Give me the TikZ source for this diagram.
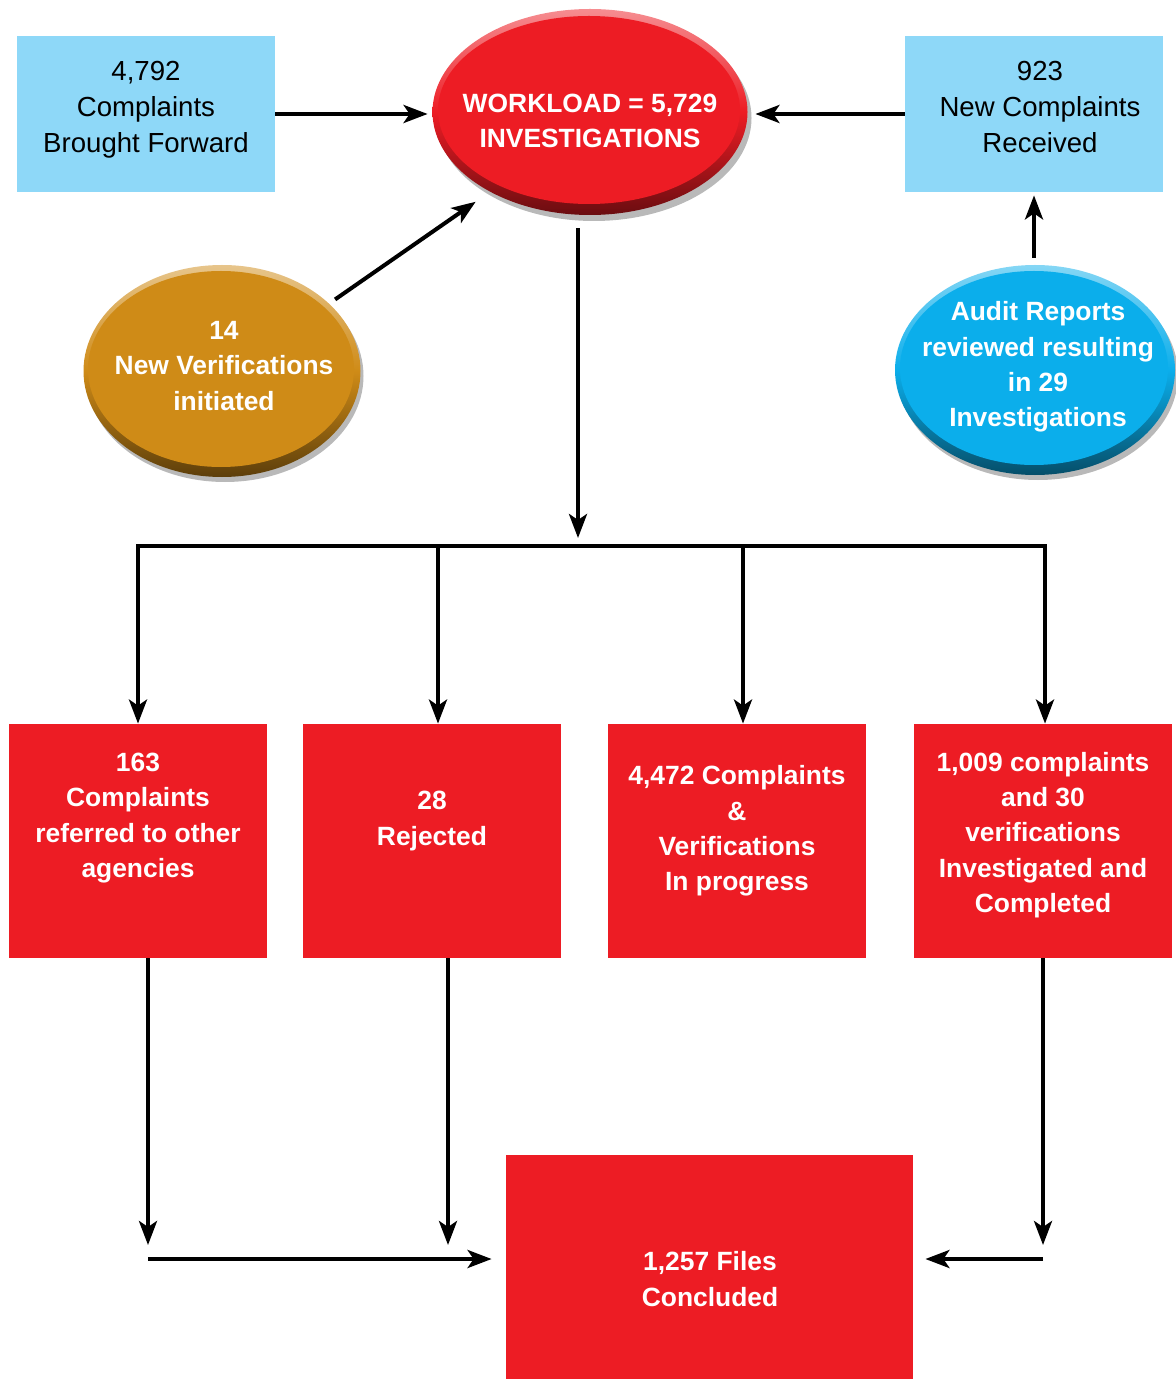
\documentclass[tikz,border=0pt]{standalone}
\usepackage{fontspec}
\setmainfont{Liberation Sans}
\usetikzlibrary{arrows.meta,shapes.geometric,calc}
\definecolor{boxred}{HTML}{ED1C24}
\definecolor{lblue}{HTML}{8ED8F8}
\definecolor{orng}{HTML}{CF8B17}
\definecolor{skyb}{HTML}{0BAEEB}
\begin{document}
\begin{tikzpicture}[x=0.5pt,y=-0.5pt,
  arr/.style={line width=2pt,-{Stealth[length=12pt,width=9pt,inset=3pt]}},
  wtxt/.style={text=white,font=\bfseries\fontsize{13.2}{17.6}\selectfont,align=center,inner sep=0pt},
  btxt/.style={text=black,font=\fontsize{13.8}{18}\selectfont,align=center,inner sep=0pt},
  redbox/.style={fill=boxred,minimum width=129pt,minimum height=117pt,inner sep=0pt},
  bluebox/.style={fill=lblue,minimum width=129pt,minimum height=78pt,inner sep=0pt},
  oval/.style={ellipse,inner sep=0pt},
  shadowfill/.style={fill=gray!55}
]
\useasboundingbox (0,0) rectangle (1175,1379);

% light blue boxes
\node[bluebox] (tl) at (146,114) {};
\node[btxt] (tlt) at (146,110) {4,792\\Complaints\\Brought Forward};
\node[bluebox] (tr) at (1034,114) {};
\node[btxt] (trt) at (1040,107) {923\\New Complaints\\Received};

% workload ellipse
\fill[shadowfill] (594,118) ellipse [x radius=78.75pt, y radius=51.5pt];
\shade[top color=boxred!50!white, bottom color=boxred!45!black, middle color=boxred] (590,112) ellipse [x radius=78.75pt, y radius=51.5pt];
\node[oval, fill=boxred, minimum width=151pt, minimum height=94pt] (wl) at (589,110) {};
\node[wtxt] (wlt) at (590,121) {WORKLOAD = 5,729\\INVESTIGATIONS};

% orange ellipse
\fill[shadowfill] (225,376) ellipse [x radius=69.25pt, y radius=53pt];
\shade[top color=orng!50!white, bottom color=orng!45!black, middle color=orng] (222,371) ellipse [x radius=69.25pt, y radius=53pt];
\node[oval, fill=orng, minimum width=133pt, minimum height=98pt] (ov) at (221,369) {};
\node[wtxt] (ovt) at (224,366) {14\\New Verifications\\initiated};

% blue ellipse
\fill[shadowfill] (1038,375) ellipse [x radius=70pt, y radius=52.5pt];
\shade[top color=skyb!50!white, bottom color=skyb!45!black, middle color=skyb] (1035,370) ellipse [x radius=70pt, y radius=52.5pt];
\node[oval, fill=skyb, minimum width=134pt, minimum height=97pt] (bv) at (1034,368) {};
\node[wtxt] (bvt) at (1038,367) {Audit Reports\\reviewed resulting\\in 29\\Investigations};

% red boxes
\node[redbox] (b1) at (138,841) {};
\node[wtxt] (b1t) at (138,818) {163\\Complaints\\referred to other\\agencies};
\node[redbox] (b2) at (432,841) {};
\node[wtxt] (b2t) at (432,821) {28\\Rejected};
\node[redbox] (b3) at (737,841) {};
\node[wtxt] (b3t) at (737,831) {4,472 Complaints\\\&\\Verifications\\In progress};
\node[redbox] (b4) at (1043,841) {};
\node[wtxt] (b4t) at (1043,835) {1,009 complaints\\and 30\\verifications\\Investigated and\\Completed};

\node[fill=boxred, minimum width=203.5pt, minimum height=112pt, inner sep=0pt] (bot) at (709.5,1267) {};
\node[wtxt] (bott) at (710,1279) {1,257 Files\\Concluded};

% connectors top
\draw[arr, shorten >=5pt] (tl.east) -- (tl.east -| wl.west);
\draw[arr, shorten >=7.5pt] (tr.west) -- (tr.west -| wl.east);
\draw[arr, shorten <=6.5pt, shorten >=14pt] (ov.31) -- (wl.220);
\draw[arr, shorten <=6.5pt, shorten >=1.5pt] (bv.north) -- (bv.north |- tr.south);

% split
\coordinate (split) at (578,546);
\draw[arr, shorten <=12pt, shorten >=4pt] (split |- wl.south) -- (split);
\draw[arr] (split) -| (b1.north);
\draw[arr] (split) -| ([xshift=1pt]b4.north);
\draw[arr] ([xshift=3pt]b2.north |- split) -- ([xshift=3pt]b2.north);
\draw[arr] ([xshift=3pt]b3.north |- split) -- ([xshift=3pt]b3.north);

% bottom
\coordinate (j1) at (148,1259);
\coordinate (j2) at (448,1259);
\coordinate (j4) at (1043,1259);
\draw[arr, shorten >=7pt] (j1 |- b1.south) -- (j1);
\draw[arr, shorten >=7pt] (j2 |- b2.south) -- (j2);
\draw[arr, shorten >=7pt] (j4 |- b4.south) -- (j4);
\draw[arr, shorten >=7pt] (j1) -- (j1 -| bot.west);
\draw[arr, shorten >=6pt] (j4) -- (j4 -| bot.east);
\end{tikzpicture}
\end{document}
